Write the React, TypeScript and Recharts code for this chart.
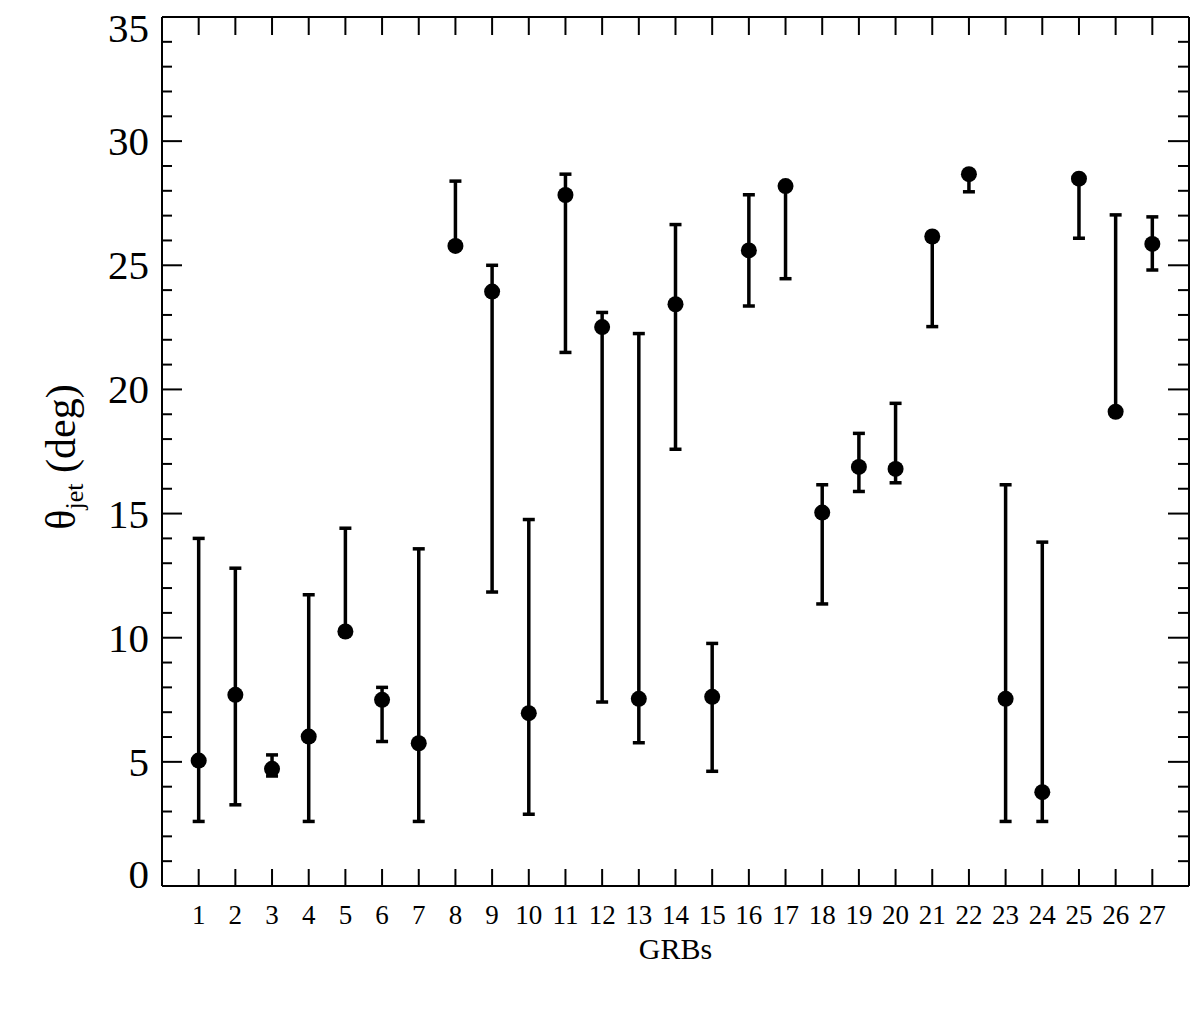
import React from 'react';
import {
  ScatterChart,
  Scatter,
  XAxis,
  YAxis,
  ErrorBar,
} from "recharts";

// GRB index on the x axis
const grbs = [1, 2, 3, 4, 5, 6, 7, 8, 9, 10, 11, 12, 13, 14, 15, 16, 17, 18, 19, 20, 21, 22, 23, 24, 25, 26, 27];
// jet opening angle (deg)
const theta = [5.05, 7.7, 4.72, 6.02, 10.25, 7.5, 5.75, 25.78, 23.94, 6.96, 27.83, 22.51, 7.54, 23.43, 7.62, 25.6, 28.19, 15.04, 16.88, 16.8, 26.16, 28.67, 7.54, 3.78, 28.49, 19.1, 25.86];
// upper / lower limits of the error bars (null = no bar on that side)
const upper = [14.0, 12.8, 5.28, 11.73, 14.41, 8.0, 13.58, 28.39, 25.0, 14.76, 28.67, 23.1, 22.25, 26.64, 9.77, 27.84, null, 16.16, 18.23, 19.44, null, null, 16.16, 13.85, null, 27.03, 26.95];
const lower = [2.6, 3.27, 4.43, 2.6, null, 5.82, 2.6, null, 11.84, 2.89, 21.49, 7.41, 5.77, 17.59, 4.62, 23.36, 24.46, 11.36, 15.89, 16.24, 22.53, 27.96, 2.6, 2.6, 26.09, null, 24.81];

const yTicks = Array.from({ length: 36 }, (_, i) => i);

const data = grbs.map((g, i) => ({
  grb: g,
  theta: theta[i],
  err: [
    lower[i] == null ? 0 : theta[i] - (lower[i] as number),
    upper[i] == null ? 0 : (upper[i] as number) - theta[i],
  ],
}));

const FONT = '"Liberation Serif", "Times New Roman", serif';

const BottomTick = ({ x, y, payload }: any) => (
  <g>
    <line x1={x} y1={y} x2={x} y2={y - 17} stroke="#000" strokeWidth={2} />
    <text x={x} y={y + 38} textAnchor="middle" fontFamily={FONT} fontSize={27} fill="#000">
      {payload.value}
    </text>
  </g>
);

const TopTick = ({ x, y }: any) => (
  <line x1={x} y1={y + 1} x2={x} y2={y + 18} stroke="#000" strokeWidth={2} />
);

const LeftTick = ({ x, y, payload }: any) => {
  const major = payload.value % 5 === 0;
  // edge labels sit a little inside the frame
  let dy = 14;
  if (payload.value === 35) dy = 25;
  if (payload.value === 0) dy = 2;
  return (
    <g>
      <line x1={x} y1={y} x2={x + (major ? 20 : 10)} y2={y} stroke="#000" strokeWidth={2} />
      {major && (
        <text x={x - 13} y={y + dy} textAnchor="end" fontFamily={FONT} fontSize={41} fill="#000">
          {payload.value}
        </text>
      )}
    </g>
  );
};

const RightTick = ({ x, y, payload }: any) => {
  const major = payload.value % 5 === 0;
  return <line x1={x - 1} y1={y} x2={x - 1 - (major ? 20 : 10)} y2={y} stroke="#000" strokeWidth={2} />;
};

const YTitle = () => (
  <text transform="translate(75,457) rotate(-90)" textAnchor="middle" fontFamily={FONT} fontSize={42} fill="#000">
    θ
    <tspan fontSize={26} dy={8}>jet</tspan>
    <tspan dy={-8}> (deg)</tspan>
  </text>
);

const App = () => {
  return (
    <div style={{ position: 'absolute', left: 0, top: 0, width: 1200, height: 1029, background: '#fff' }}>
      <ScatterChart width={1200} height={1029} margin={{ top: 16, right: 10, left: 0, bottom: 0 }}>
        <XAxis
          dataKey="grb"
          type="number"
          domain={[0, 28]}
          ticks={grbs}
          interval={0}
          height={143}
          tickSize={0}
          tickMargin={0}
          tickLine={false}
          axisLine={{ stroke: '#000', strokeWidth: 2 }}
          tick={<BottomTick />}
          label={{ value: 'GRBs', position: 'insideTop', offset: 52, fontFamily: FONT, fontSize: 30, fill: '#000' }}
        />
        <XAxis
          xAxisId="top"
          dataKey="grb"
          orientation="top"
          type="number"
          domain={[0, 28]}
          ticks={grbs}
          interval={0}
          height={1}
          tickSize={0}
          tickMargin={0}
          tickLine={false}
          axisLine={{ stroke: '#000', strokeWidth: 2 }}
          tick={<TopTick />}
        />
        <YAxis
          dataKey="theta"
          type="number"
          domain={[0, 35]}
          ticks={yTicks}
          interval={0}
          width={162}
          tickSize={0}
          tickMargin={0}
          tickLine={false}
          axisLine={{ stroke: '#000', strokeWidth: 2 }}
          tick={<LeftTick />}
          label={{ content: () => <YTitle /> }}
        />
        <YAxis
          yAxisId="right"
          dataKey="theta"
          orientation="right"
          type="number"
          domain={[0, 35]}
          ticks={yTicks}
          interval={0}
          width={1}
          tickSize={0}
          tickMargin={0}
          tickLine={false}
          axisLine={{ stroke: '#000', strokeWidth: 2 }}
          tick={<RightTick />}
        />
        {/* invisible series so the mirrored top / right axes get drawn */}
        <Scatter
          data={data}
          dataKey="theta"
          xAxisId="top"
          yAxisId="right"
          isAnimationActive={false}
          shape={() => <g />}
        />
        <Scatter
          data={data}
          dataKey="theta"
          isAnimationActive={false}
          shape={(p: any) => <circle cx={p.cx} cy={p.cy} r={8} fill="#000" />}
        >
          <ErrorBar dataKey="err" direction="y" width={6} stroke="#000" strokeWidth={3.5} />
        </Scatter>
      </ScatterChart>
    </div>
  );
};

export default App;
